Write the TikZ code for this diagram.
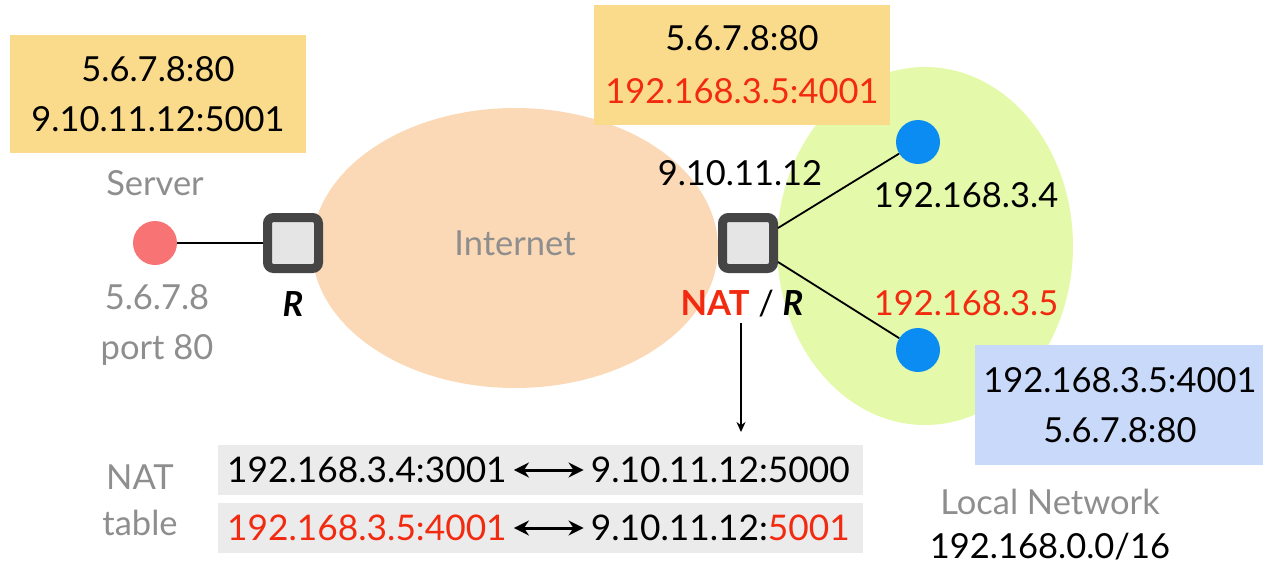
\documentclass[tikz,border=0pt]{standalone}
\usepackage{fontspec}
\setmainfont{Lato}
\usetikzlibrary{arrows.meta, positioning, shapes.geometric}

\definecolor{addrbg}{HTML}{FADB8C}
\definecolor{lanbg}{HTML}{C9D9FA}
\definecolor{inetbg}{HTML}{FBD9B6}
\definecolor{greenbg}{HTML}{E4F9AA}
\definecolor{rowbg}{HTML}{EBEBEB}
\definecolor{hot}{HTML}{F22A10}
\definecolor{soft}{HTML}{8E8E8E}
\definecolor{hostblue}{HTML}{0B8CF2}
\definecolor{srvred}{HTML}{F87474}

\begin{document}
\begin{tikzpicture}[x=1pt, y=-1pt,
  every node/.style={font=\fontsize{34.5}{50}\selectfont, inner sep=0pt},
  addr/.style={align=center, minimum width=296pt, minimum height=118pt},
  router/.style={draw=black!73, line width=9pt, fill=black!10, rounded corners=6pt, minimum size=51pt},
  host/.style={circle, minimum size=44pt},
  lbl/.style={text=soft},
  row/.style={fill=rowbg, minimum width=645pt, minimum height=50pt},
  cell/.style={font=\fontsize{35.3}{50}\selectfont},
  arr/.style={-{Stealth[length=10pt, width=9pt]}, line width=1.6pt},
  dbl/.style={{Stealth[length=15pt, width=15pt]}-{Stealth[length=15pt, width=15pt]}, line width=3pt, shorten <=7pt, shorten >=7pt}
]
\useasboundingbox (0,0) rectangle (1263,566);

% clouds
\node[ellipse, fill=inetbg, minimum width=406pt, minimum height=280pt] (inet) at (515,248) {};
\node[ellipse, fill=greenbg, minimum width=296pt, minimum height=358pt] (lan) at (925,246) {};
\node[lbl] (inetlbl) at (515,243) {Internet};

% server side
\node[host, fill=srvred] (srv) at (155,243) {};
\node[router] (r1) at (293,243) {};
\draw[line width=1.8pt] (srv) -- (r1);
\node[lbl] (srvlbl) at (155,183) {Server};
\node[lbl, align=center] (srvip) at (157,325) {5.6.7.8\\port 80};
\node[font=\fontsize{34.5}{50}\selectfont\bfseries\itshape] (r1lbl) at (293,304) {R};

% NAT router and hosts
\node[router] (r2) at (748,243) {};
\node[host, fill=hostblue] (h1) at (918,142) {};
\node[host, fill=hostblue] (h2) at (918,350) {};
\draw[line width=1.8pt] (r2.east |- 0,228) -- (h1);
\draw[line width=1.8pt] (r2.east |- 0,262) -- (h2);
\node (pubip) at (740,173) {9.10.11.12};
\node (h1lbl) at (966,195) {192.168.3.4};
\node[text=hot] (h2lbl) at (966,303) {192.168.3.5};
\node (natlbl) at (742,304) {\textcolor{hot}{\bfseries NAT} / {\bfseries\itshape R}};
\coordinate (tbltop) at (741,432);
\draw[arr] (741,323) -- (tbltop);

% address boxes
\node[addr, fill=addrbg] (pkt1) at (158,94) {5.6.7.8:80\\9.10.11.12:5001};
\node[addr, fill=addrbg, minimum height=120pt, font=\fontsize{34.5}{53}\selectfont] (pkt2) at (742,65) {5.6.7.8:80\\\textcolor{hot}{192.168.3.5:4001}};
\node[addr, fill=lanbg, minimum width=290pt, minimum height=120pt] (pkt3) at (1120,405) {192.168.3.5:4001\\5.6.7.8:80};

% NAT table
\node[lbl, align=center, font=\fontsize{34.5}{46}\selectfont] (tbllbl) at (140,500) {NAT\\table};
\node[row] (row1) at (540,470) {};
\node[row] (row2) at (540,528) {};
\node[cell, anchor=west] (in1) at (227,470) {192.168.3.4:3001};
\node[cell, anchor=east] (out1) at (850,470) {9.10.11.12:5000};
\node[cell, anchor=west, text=hot] (in2) at (227,528) {192.168.3.5:4001};
\node[cell, anchor=east] (out2) at (850,528) {9.10.11.12:\textcolor{hot}{5001}};
\draw[dbl] (in1) -- (out1);
\draw[dbl] (in2) -- (out2);

% local network label
\node[lbl] (lanlbl) at (1050,502) {Local Network};
\node (lanip) at (1050,547) {192.168.0.0/16};
\end{tikzpicture}
\end{document}
